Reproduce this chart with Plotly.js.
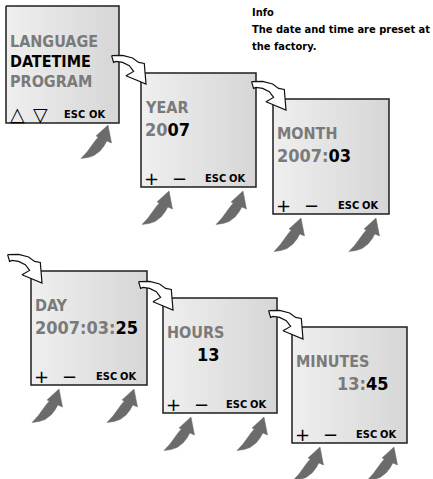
<!DOCTYPE html>
<html>
<head>
<meta charset="utf-8">
<script src="https://cdn.plot.ly/plotly-3.0.1.min.js"></script>
<style>html,body{margin:0;padding:0;background:#fff}#chart{width:433px;height:479px}</style>
</head>
<body>
<div id="chart"></div>
<script>
// ---- content ----
const menuItems = ['LANGUAGE', 'DATETIME', 'PROGRAM'];
const menuSelected = 'DATETIME';
const fieldNames = ['YEAR', 'MONTH', 'DAY', 'HOURS', 'MINUTES'];
const presetParts = ['20', '2007:', '2007:03:', '', '13:'];
const editedParts = ['07', '03', '25', '13', '45'];
const menuKeys = ['△', '▽', 'ESC', 'OK'];
const editKeys = ['+', '−', 'ESC', 'OK'];
const infoTitle = 'Info';
const infoLines = ['The date and time are preset at', 'the factory.'];

// ---- layout (pixel frame) ----
const boxes = [[6,6,119,123],[141,73,256,187],[273,99,389,214],[31,271,147,385],[163,298,277,413],[292,327,407,443]];
const valueIndent = [2, 2, 2, 32, 43];
const whiteTipOffset = [[5,11],[13,11],[11,12],[10,12],[11,12]];
const NARROW = "'DejaVu Sans Condensed', 'Liberation Sans Narrow', sans-serif";
const WIDE = "'DejaVu Sans', sans-serif";
const GREY_TXT = '#7a7a7a';
const traces = [];
const ann = [];

function poly(pts, fill, line, lw, grad) {
  const xs = pts.map(p => p[0]); const ys = pts.map(p => p[1]);
  xs.push(pts[0][0]); ys.push(pts[0][1]);
  const t = {x: xs, y: ys, mode: 'lines', fill: 'toself', fillcolor: fill,
    line: {color: line, width: lw}, hoverinfo: 'skip', showlegend: false};
  if (grad) t.fillgradient = grad;
  traces.push(t);
}
const whiteArrow = [[-34.4,-28.3],[-23.4,-28.6],[-13.4,-26],[-7.4,-21.6],[-1.7,-20.6],[0,0],[-20,-8.3],[-12.4,-12.6],[-16.7,-18.3],[-23.4,-21.6],[-30,-22.6],[-32.4,-21.6]];
const greyArrow = [[0,0],[3.5,18],[-1.2,15.9],[-4,21],[-8,26],[-14,30.5],[-20,32.5],[-27,33.5],[-21,27],[-17,21],[-13,16],[-9.7,12],[-12,11]];
function place(tpl, tx, ty) { return tpl.map(p => [tx + p[0], ty + p[1]]); }
function txt(x, y, text, size, color, family, anchor, weight) {
  ann.push({x: x, y: y, xref: 'x', yref: 'y', text: text, showarrow: false,
    xanchor: anchor || 'left', yanchor: 'middle',
    font: {family: family || NARROW, size: size, color: color, weight: weight || 700}});
}

// screens
boxes.forEach(b => {
  poly([[b[0],b[1]],[b[2],b[1]],[b[2],b[3]],[b[0],b[3]]], '#e4e4e4', '#1e1e1e', 1.5,
    {type: 'horizontal', colorscale: [[0,'#efefef'],[1,'#d6d6d6']]});
});

// white arrows into each edit screen
for (let i = 0; i < fieldNames.length; i++) {
  const b = boxes[i+1];
  poly(place(whiteArrow, b[0] + whiteTipOffset[i][0], b[1] + whiteTipOffset[i][1]), '#ffffff', '#111111', 1.2);
}
// grey arrows
const AG = '#6b6b6b';
poly(place(greyArrow, boxes[0][2] - 11, boxes[0][3] + 2), AG, AG, 0.5);
for (let i = 1; i < boxes.length; i++) {
  const b = boxes[i];
  poly(place(greyArrow, b[0] + 28, b[3] + 4), AG, AG, 0.5);
  poly(place(greyArrow, b[2] - 13, b[3] + 4), AG, AG, 0.5);
}

// menu screen texts
menuItems.forEach((m, k) => {
  txt(boxes[0][0] + 2, 41 + k * 20, m, 16, m === menuSelected ? '#000' : GREY_TXT);
});
const b0 = boxes[0];
txt(b0[0] + 11, b0[3] - 9, menuKeys[0], 19, '#000', WIDE, 'center', 400);
txt(b0[0] + 34, b0[3] - 9, menuKeys[1], 19, '#000', WIDE, 'center', 400);
txt(b0[2] - 45, b0[3] - 9, menuKeys[2], 11, '#000', NARROW, 'center');
txt(b0[2] - 22, b0[3] - 9, menuKeys[3], 11, '#000', NARROW, 'center');

// edit screens
fieldNames.forEach((f, i) => {
  const b = boxes[i+1];
  txt(b[0] + 2, b[1] + 34, f, 16, GREY_TXT);
  const val = (presetParts[i] ? '<span style="color:' + GREY_TXT + '">' + presetParts[i] + '</span>' : '') + editedParts[i];
  txt(b[0] + valueIndent[i], b[1] + 56, val, 18, '#000');
  txt(b[0] + 10, b[3] - 9, editKeys[0], 18, '#000', WIDE, 'center', 400);
  txt(b[0] + 38, b[3] - 9, editKeys[1], 18, '#000', WIDE, 'center', 400);
  txt(b[2] - 41, b[3] - 9, editKeys[2], 11, '#000', NARROW, 'center');
  txt(b[2] - 19, b[3] - 9, editKeys[3], 11, '#000', NARROW, 'center');
});

// info text
txt(250, 12, infoTitle, 11, '#000');
infoLines.forEach((l, k) => txt(250, 29 + k * 17, l, 11, '#000'));

Plotly.newPlot('chart', traces, {
  width: 433, height: 479, margin: {l: 0, r: 0, t: 0, b: 0},
  paper_bgcolor: '#fff', plot_bgcolor: '#fff',
  xaxis: {range: [0, 433], visible: false, fixedrange: true},
  yaxis: {range: [479, 0], visible: false, fixedrange: true},
  annotations: ann, showlegend: false
}, {staticPlot: true});
</script>
</body>
</html>
